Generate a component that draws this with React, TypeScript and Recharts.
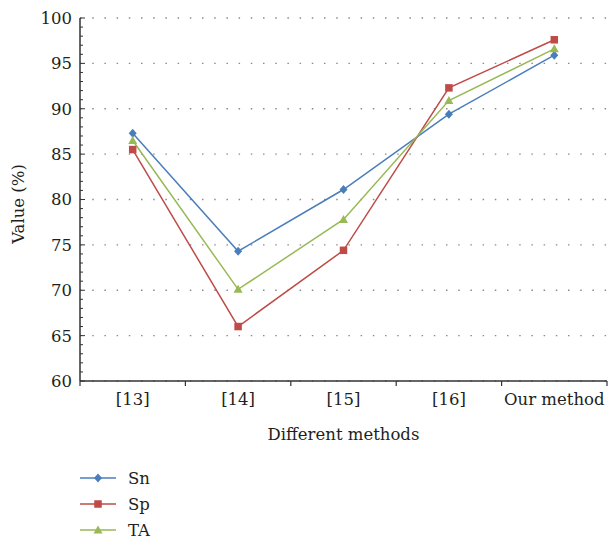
import { LineChart, Line, XAxis, YAxis, CartesianGrid, Legend } from "recharts";

const methods = ["[13]", "[14]", "[15]", "[16]", "Our method"];
const sn = [87.3, 74.3, 81.1, 89.4, 95.9];
const sp = [85.5, 66.0, 74.4, 92.3, 97.6];
const ta = [86.5, 70.1, 77.8, 90.9, 96.6];
const yDomain = [60, 100];
const yMajorTicks = [60, 65, 70, 75, 80, 85, 90, 95, 100];
const yAllTicks = Array.from({ length: 41 }, (_, i) => 60 + i);
const xTicks = methods.flatMap((_, i) => [i, i + 0.5]).concat(methods.length);

const FONT = "'DejaVu Serif', serif";
const FONT_SIZE = 16.5;
const TEXT = "#231f20";
const AXIS = "#333333";

const series = [
  { key: "Sn", values: sn, color: "#4a7ebb", shape: "diamond" },
  { key: "Sp", values: sp, color: "#be4b48", shape: "square" },
  { key: "TA", values: ta, color: "#98b954", shape: "triangle" },
];

const data = methods.map((m, i) => ({
  x: i + 0.5,
  method: m,
  Sn: sn[i],
  Sp: sp[i],
  TA: ta[i],
}));

function Marker({ cx, cy, shape, color }: { cx: number; cy: number; shape: string; color: string }) {
  if (shape === "diamond") {
    return (
      <polygon
        points={`${cx},${cy - 4.5} ${cx + 4},${cy} ${cx},${cy + 4.5} ${cx - 4},${cy}`}
        fill={color}
      />
    );
  }
  if (shape === "square") {
    return <rect x={cx - 3.75} y={cy - 3.75} width={7.5} height={7.5} fill={color} />;
  }
  return (
    <polygon
      points={`${cx},${cy - 4.5} ${cx + 4.5},${cy + 3.5} ${cx - 4.5},${cy + 3.5}`}
      fill={color}
    />
  );
}

function YTick(props: any) {
  const { x, y, payload } = props;
  const v = payload.value;
  const major = v % 5 === 0;
  return (
    <g>
      <line x1={x} x2={x + (major ? 5 : 3)} y1={y} y2={y} stroke={AXIS} strokeWidth={1} />
      {major && (
        <text
          x={x - 8}
          y={y}
          dy="0.36em"
          textAnchor="end"
          fill={TEXT}
          fontFamily={FONT}
          fontSize={FONT_SIZE}
        >
          {v}
        </text>
      )}
    </g>
  );
}

function XTick(props: any) {
  const { x, y, payload } = props;
  const v = payload.value;
  if (Number.isInteger(v)) {
    return <line x1={x} x2={x} y1={y} y2={y + 5} stroke={AXIS} strokeWidth={1.2} />;
  }
  return (
    <text x={x} y={y + 24} textAnchor="middle" fill={TEXT} fontFamily={FONT} fontSize={FONT_SIZE}>
      {methods[Math.floor(v)]}
    </text>
  );
}

function LegendContent() {
  return (
    <div style={{ height: 78, paddingLeft: 80, fontFamily: FONT, fontSize: FONT_SIZE, color: TEXT }}>
      {series.map((s) => (
        <div key={s.key} style={{ height: 26, display: "flex", alignItems: "center" }}>
          <svg width={36} height={12}>
            <line x1={0} x2={36} y1={6} y2={6} stroke={s.color} strokeWidth={1.5} />
            <Marker cx={18} cy={6} shape={s.shape} color={s.color} />
          </svg>
          <span style={{ marginLeft: 12 }}>{s.key}</span>
        </div>
      ))}
    </div>
  );
}

// grid only on the major ticks, minor ticks are just tick marks
function gridRows({ offset }: any) {
  const [lo, hi] = yDomain;
  return yMajorTicks.map((v) => offset.top + (offset.height * (hi - v)) / (hi - lo));
}

export default function App() {
  return (
    <div style={{ position: "absolute", left: 0, top: 0, background: "#fff" }}>
      <LineChart width={611} height={540} data={data} margin={{ top: 18, right: 4, left: 30, bottom: 21 }}>
        <CartesianGrid
          vertical={false}
          stroke="#8a8a8a"
          strokeWidth={1.3}
          strokeDasharray="1.5 10.7"
          horizontalCoordinatesGenerator={gridRows}
        />
        <XAxis
          type="number"
          dataKey="x"
          domain={[0, methods.length]}
          ticks={xTicks}
          interval={0}
          tickSize={0}
          tickMargin={0}
          tick={<XTick />}
          height={60}
          stroke={AXIS}
          strokeWidth={1.5}
          label={{
            value: "Different methods",
            position: "insideBottom",
            offset: 1,
            fill: TEXT,
            fontFamily: FONT,
            fontSize: FONT_SIZE,
          }}
        />
        <YAxis
          type="number"
          domain={yDomain}
          ticks={yAllTicks}
          interval={0}
          tickSize={0}
          tickMargin={0}
          tick={<YTick />}
          width={50}
          stroke={AXIS}
          strokeWidth={1.5}
          label={{
            content: () => (
              <text
                x={18}
                y={204}
                transform="rotate(-90 18 204)"
                textAnchor="middle"
                dominantBaseline="central"
                fill={TEXT}
                fontFamily={FONT}
                fontSize={FONT_SIZE}
              >
                Value (%)
              </text>
            ),
          }}
        />
        <Legend
          verticalAlign="bottom"
          content={<LegendContent />}
          wrapperStyle={{ top: 465, left: 0, width: 300, bottom: "auto" }}
        />
        {series.map((s) => (
          <Line
            key={s.key}
            dataKey={s.key}
            stroke={s.color}
            strokeWidth={1.5}
            isAnimationActive={false}
            dot={(p: any) => <Marker key={`${s.key}-${p.index}`} cx={p.cx} cy={p.cy} shape={s.shape} color={s.color} />}
            activeDot={false}
          />
        ))}
      </LineChart>
    </div>
  );
}
